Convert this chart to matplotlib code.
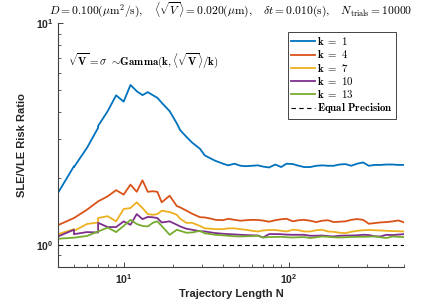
import math
import matplotlib
matplotlib.use("Agg")
import matplotlib.pyplot as plt
from matplotlib.ticker import FixedLocator, LogLocator, NullFormatter, FuncFormatter

plt.rcParams['mathtext.fontset'] = 'cm'
plt.rcParams['mathtext.rm'] = 'Liberation Sans'
plt.rcParams['mathtext.bf'] = 'Liberation Sans:bold'
plt.rcParams['font.family'] = 'Liberation Sans'

# Trajectory lengths (rounded log grid, duplicates at 5 and 7)
N = [4, 5, 5, 6, 7, 7, 8, 9, 10, 11, 12, 13, 14, 15, 16, 17, 19, 21, 22, 24, 26, 29,
     31, 34, 36, 40, 43, 47, 51, 55, 60, 65, 70, 76, 83, 90, 97, 106, 115, 124, 135,
     147, 159, 173, 187, 203, 221, 239, 260, 282, 306, 332, 360, 391, 425, 461, 500]

k1 = [1.72, 2.27, 2.25, 2.75, 3.38, 3.45, 4.02, 4.74, 4.44, 5.28, 4.95, 4.75, 4.90, 4.75, 4.62,
      4.39, 4.02, 3.54, 3.30, 3.08, 2.90, 2.72,
      2.54, 2.45, 2.40, 2.33, 2.29, 2.33, 2.28, 2.27, 2.28, 2.29, 2.26, 2.24, 2.31, 2.25, 2.33,
      2.32, 2.28, 2.25, 2.25, 2.28, 2.29, 2.28, 2.28, 2.31, 2.32, 2.28, 2.33, 2.36, 2.28,
      2.30, 2.30, 2.31, 2.31, 2.30, 2.30]
k4 = [1.23, 1.325, 1.325, 1.445, 1.575, 1.575, 1.66, 1.77, 1.69, 1.875, 1.74, 1.96, 1.74, 1.75,
      1.74, 1.56, 1.67, 1.50, 1.48, 1.43, 1.385, 1.336,
      1.333, 1.315, 1.30, 1.295, 1.315, 1.30, 1.288, 1.295, 1.30, 1.298, 1.29, 1.275, 1.295,
      1.308, 1.315, 1.28, 1.295, 1.30, 1.288, 1.27, 1.288, 1.295, 1.27, 1.275, 1.28, 1.30,
      1.311, 1.30, 1.248, 1.257, 1.266, 1.27, 1.279, 1.292, 1.266]
k7 = [1.12, 1.18, 1.16, 1.245, 1.265, 1.325, 1.35, 1.28, 1.455, 1.47, 1.56, 1.47, 1.38, 1.37,
      1.38, 1.43, 1.41, 1.37, 1.315, 1.26, 1.26, 1.22,
      1.19, 1.185, 1.18, 1.18, 1.19, 1.19, 1.18, 1.173, 1.16, 1.152, 1.164, 1.17, 1.17, 1.16,
      1.152, 1.173, 1.167, 1.152, 1.152, 1.167, 1.173, 1.152, 1.148, 1.137, 1.133, 1.148,
      1.16, 1.167, 1.17, 1.167, 1.164, 1.16, 1.157, 1.155, 1.152]
k10 = [1.094, 1.173, 1.12, 1.145, 1.14, 1.26, 1.206, 1.206, 1.279, 1.235, 1.38, 1.31, 1.34,
       1.335, 1.325, 1.265, 1.28, 1.235, 1.214, 1.185, 1.173, 1.155,
       1.152, 1.14, 1.133, 1.125, 1.121, 1.117, 1.113, 1.11, 1.107, 1.105, 1.082, 1.121, 1.121,
       1.12, 1.115, 1.113, 1.113, 1.113, 1.102, 1.102, 1.105, 1.098, 1.094, 1.102, 1.104,
       1.105, 1.107, 1.113, 1.11, 1.096, 1.094, 1.113, 1.11, 1.115, 1.121]
k13 = [1.068, 1.08, 1.08, 1.10, 1.152, 1.152, 1.20, 1.145, 1.22, 1.30, 1.245, 1.22, 1.214,
       1.26, 1.28, 1.22, 1.113, 1.173, 1.16, 1.137, 1.14, 1.16,
       1.13, 1.12, 1.113, 1.107, 1.102, 1.096, 1.094, 1.096, 1.098, 1.102, 1.082, 1.087, 1.088,
       1.09, 1.085, 1.082, 1.085, 1.087, 1.076, 1.085, 1.094, 1.09, 1.085, 1.082, 1.085,
       1.088, 1.09, 1.09, 1.092, 1.094, 1.085, 1.076, 1.094, 1.09, 1.087]

series = [(k1, 'k = 1', '#0072BD'), (k4, 'k = 4', '#D95319'), (k7, 'k = 7', '#EDB120'),
          (k10, 'k = 10', '#7E2F8E'), (k13, 'k = 13', '#77AC30')]

fig = plt.figure(figsize=(4.46, 3.05), dpi=100)
ax = fig.add_axes([0.130, 0.126, 0.776, 0.797])

for vals, lab, col in series:
    ax.plot(N, vals, color=col, linewidth=1.3, label=r'$\mathbf{%s}$' % lab.replace(' ', '\\ '))
ax.axhline(1.0, color='black', linestyle='--', linewidth=0.8, dashes=(4, 3),
           label=r'$\mathbf{Equal\ Precision}$')

ax.set_xscale('log')
ax.set_yscale('log')
ax.set_xlim(4, 500)
ax.set_ylim(0.8, 10)

for side in ['top', 'right']:
    ax.spines[side].set_visible(False)
for side in ['left', 'bottom']:
    ax.spines[side].set_color('#404040')
    ax.spines[side].set_linewidth(0.8)

def fmt(x, pos):
    return r'$\mathbf{10^{%d}}$' % round(math.log10(x))

ax.xaxis.set_major_locator(FixedLocator([10, 100]))
ax.yaxis.set_major_locator(FixedLocator([1, 10]))
ax.xaxis.set_major_formatter(FuncFormatter(fmt))
ax.yaxis.set_major_formatter(FuncFormatter(fmt))
ax.xaxis.set_minor_locator(LogLocator(base=10, subs=range(2, 10)))
ax.yaxis.set_minor_locator(LogLocator(base=10, subs=range(2, 10)))
ax.xaxis.set_minor_formatter(NullFormatter())
ax.yaxis.set_minor_formatter(NullFormatter())
ax.tick_params(which='both', direction='in', colors='#262626', labelsize=7.5)
ax.tick_params(which='major', length=3.5, width=0.6)
ax.tick_params(which='minor', length=2, width=0.5)
ax.tick_params(axis='x', pad=4)
for lbl in ax.get_xticklabels() + ax.get_yticklabels():
    lbl.set_math_fontfamily('custom')

ax.set_xlabel('Trajectory Length N', fontsize=8, fontweight='bold', color='#262626', labelpad=2)
ax.set_ylabel('SLE/VLE Risk Ratio', fontsize=8, fontweight='bold', color='#262626', labelpad=6)

ax.set_title(r'$D = 0.100(\mu\mathrm{m}^2/\mathrm{s}),\quad \langle\sqrt{V}\rangle = 0.020(\mu\mathrm{m}),'
             r'\quad \delta t = 0.010(\mathrm{s}),\quad N_{\mathrm{trials}} = 10000$',
             fontsize=8.3, pad=7.2)

ax.text(0.03, 0.842, r'$\sqrt{\mathbf{V}} = \sigma\ \sim\!\mathbf{Gamma}(\mathbf{k},\langle\sqrt{\mathbf{V}}\rangle/\mathbf{k})$',
        transform=ax.transAxes, fontsize=7.9, ha='left', va='center')

leg = ax.legend(loc='upper right', bbox_to_anchor=(0.977, 0.966), fontsize=7.8, handlelength=2.2,
                handletextpad=0.2, borderpad=0.3, labelspacing=0.12, fancybox=False,
                framealpha=1, edgecolor='#262626', borderaxespad=0)
leg.get_frame().set_linewidth(0.6)

fig.savefig('out.png', dpi=100)
